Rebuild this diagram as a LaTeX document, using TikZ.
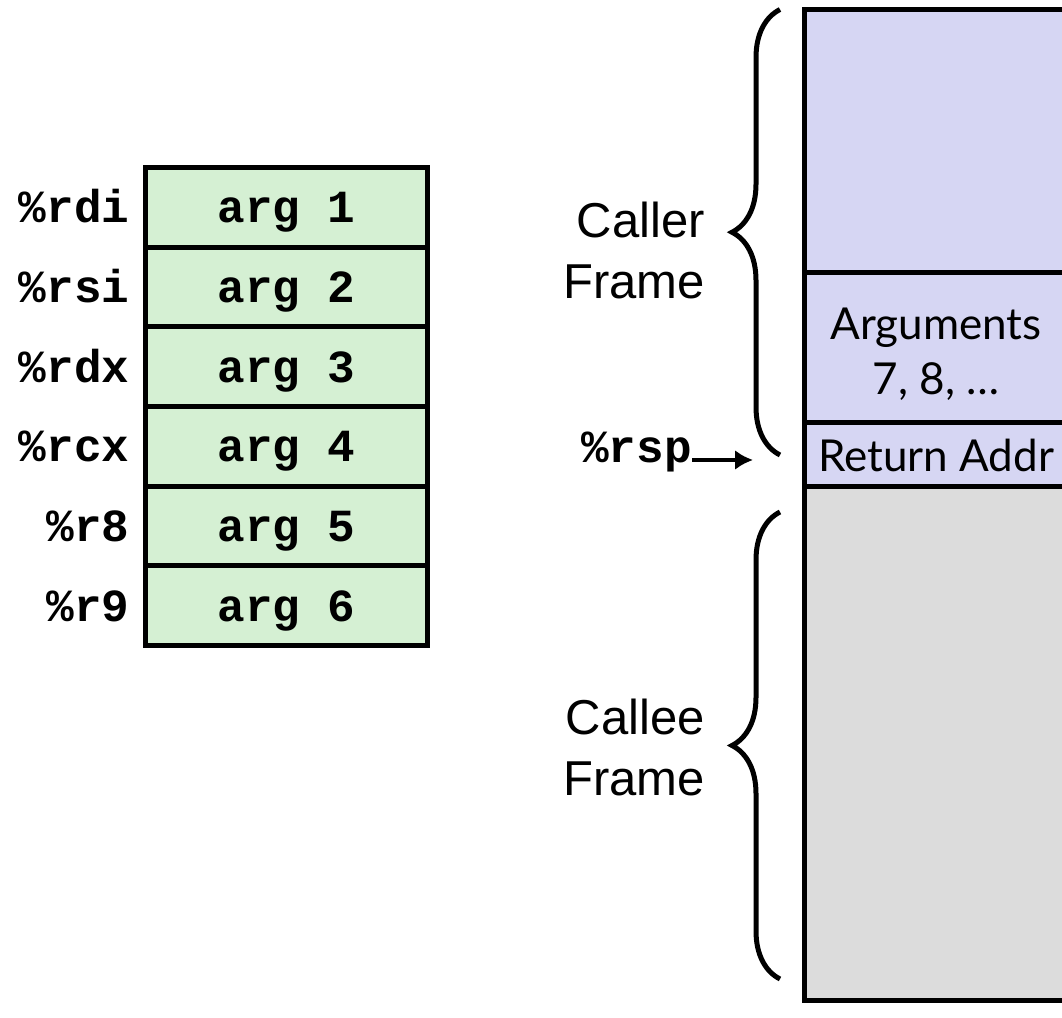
\documentclass[tikz,border=0pt]{standalone}
\usepackage{fontspec}
\setmainfont{Liberation Sans}
\setmonofont{Liberation Mono}
\newfontfamily\gillfont{Lato}
\usetikzlibrary{arrows.meta,positioning,calc,decorations.pathreplacing}
\definecolor{RegGreen}{HTML}{D5F0D3}
\definecolor{StackLav}{HTML}{D6D6F3}
\definecolor{StackGray}{HTML}{DCDCDC}

\begin{document}
\begin{tikzpicture}[x=1pt,y=1pt,
    argbox/.style={draw,line width=5pt,fill=RegGreen,minimum width=282pt,minimum height=79.67pt,inner sep=0pt,outer sep=0pt,text depth=0pt,font=\fontsize{46}{50}\selectfont\ttfamily\bfseries},
    reglabel/.style={inner sep=0pt,font=\fontsize{46}{50}\selectfont\ttfamily\bfseries},
    slot/.style={draw,line width=5pt,fill=StackLav,minimum width=264pt,inner sep=0pt,outer sep=0pt,align=center,font=\fontsize{44}{55}\selectfont\gillfont},
    slottext/.style={inner sep=0pt,align=center,font=\fontsize{44}{55}\selectfont\gillfont},
    framelabel/.style={inner sep=0pt,align=right,font=\fontsize{49}{61}\selectfont},
    framebrace/.style={decorate,decoration={brace,amplitude=48pt},line width=5pt}]
  \useasboundingbox (0,0) rectangle (1062,1017);
  % register table
  \foreach \i/\reg in {1/rdi,2/rsi,3/rdx,4/rcx,5/r8,6/r9}{
    \node[argbox] (arg\i) at (286.5,{809.67-(\i-1)*79.67}) {arg \i};
    \node[reglabel,left=16pt of arg\i.base west,anchor=base east] (\reg) {\%\reg};
  }
  % stack
  \node[slot,minimum height=263.5pt] (caller) at (936,875.75) {};
  \node[slot,minimum height=150pt,below=0pt of caller] (args) {};
  \node[slot,minimum height=64pt,below=0pt of args] (retaddr) {Return Addr};
  \node[slot,fill=StackGray,minimum height=513pt,below=0pt of retaddr] (callee) {};
  \node[slottext] (argstext) at ($(args.center)+(0,-6)$) {Arguments\\7, 8, \dots};
  % frames
  \draw[framebrace] ($(retaddr.west)+(-24,0)$) -- ($(caller.north west)+(-24,0)$);
  \draw[framebrace] ($(callee.south west)+(-24,21)$) -- ($(callee.north west)+(-24,-25)$);
  \node[framelabel,anchor=east] (callerlbl) at (705,767) {Caller\\Frame};
  \node[framelabel,anchor=east] (calleelbl) at (705,270) {Callee\\Frame};
  % stack pointer
  \node[reglabel,anchor=base east] (rsp) at (692,554) {\%rsp};
  \coordinate (rsptip) at (753,557);
  \draw[-{Latex[length=18pt,width=20pt]},line width=4pt] (rsp.east |- rsptip) -- (rsptip);
\end{tikzpicture}
\end{document}
